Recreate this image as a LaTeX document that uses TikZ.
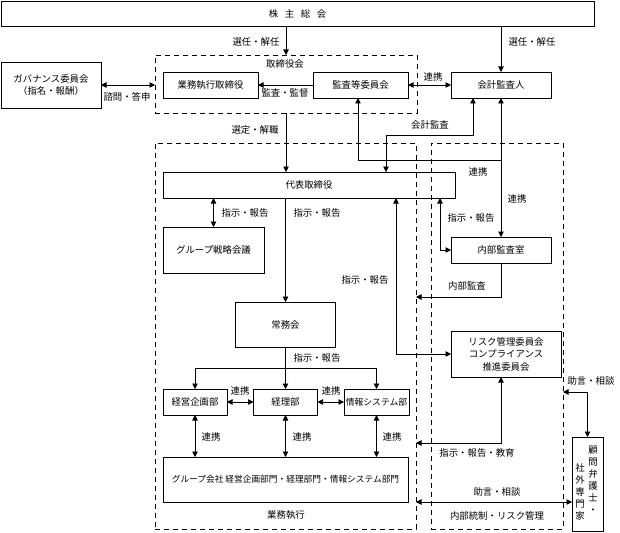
\documentclass[tikz,border=0pt]{standalone}
\usepackage{fontspec}
\setmainfont{Noto Sans CJK JP}
\usetikzlibrary{arrows.meta}

\begin{document}
\begin{tikzpicture}[x=1pt, y=-1pt, line width=.7pt, >={Triangle[length=5.5pt,width=5.5pt]},
    box/.style={draw, inner sep=0, outer sep=0, align=center, font=\fontsize{9.4}{12.5}\selectfont},
    region/.style={draw, dash pattern=on 5pt off 4pt, inner sep=0, outer sep=0},
    lbl/.style={inner sep=0, font=\fontsize{9.4}{12}\selectfont},
    vcol/.style={inner sep=0, align=center, font=\fontsize{9.4}{12}\selectfont}]
    \useasboundingbox (0,0) rectangle (620,532);

    % regions
    \node[region, minimum width=262, minimum height=58] (board) at (286,84) {};
    \node[region, minimum width=261, minimum height=386] (exec) at (285.5,336) {};
    \node[region, minimum width=132, minimum height=386] (ctrl) at (497,336) {};

    % boxes
    \node[box, minimum width=593, minimum height=25] (soukai) at (297.5,13.5) {株\hspace{.7em}主\hspace{.7em}総\hspace{.7em}会};
    \node[box, minimum width=100, minimum height=46] (gov) at (51,85) {ガバナンス委員会\\（指名・報酬）};
    \node[box, minimum width=95, minimum height=26] (gyoumu) at (210.5,85) {業務執行取締役};
    \node[box, minimum width=95, minimum height=26] (kansa) at (360.5,85) {監査等委員会};
    \node[box, minimum width=100, minimum height=26] (kaikei) at (501,85) {会計監査人};
    \node[box, minimum width=292, minimum height=26] (daihyo) at (309,185) {代表取締役};
    \node[box, minimum width=101, minimum height=46] (senryaku) at (213.5,250) {グループ戦略会議};
    \node[box, minimum width=100, minimum height=26] (naibu) at (501,250) {内部監査室};
    \node[box, minimum width=100, minimum height=45] (joumu) at (285.5,324.5) {常務会};
    \node[box, minimum width=110, minimum height=46] (risk) at (506,354) {リスク管理委員会\\コンプライアンス\\推進委員会};
    \node[box, minimum width=64, minimum height=26] (keiei) at (195,402) {経営企画部};
    \node[box, minimum width=64, minimum height=26] (keiri) at (285.5,402) {経理部};
    \node[box, minimum width=65, minimum height=26, font=\fontsize{8.8}{11}\selectfont] (joho) at (376.5,402) {情報システム部};
    \node[box, minimum width=245, minimum height=45, font=\fontsize{8.7}{11}\selectfont] (group) at (285.5,479.5) {グループ会社 経営企画部門・経理部門・情報システム部門};
    \node[box, minimum width=31, minimum height=94] (komon) at (587.5,484) {};
    \node[vcol] (komonR) at (593,480) {顧\\問\\弁\\護\\士\\・};
    \node[vcol] (komonL) at (580,492) {社\\外\\専\\門\\家};

    % bends
    \coordinate (kaA) at (473,135);
    \coordinate (kaB) at (386,135);
    \coordinate (rk) at (358,160);
    \coordinate (nbA) at (440,250);
    \coordinate (nbB) at (501,297);
    \coordinate (rsA) at (396,354);
    \coordinate (rsB) at (501,443);
    \coordinate (jmA) at (285.5,368);
    \coordinate (kmA) at (587.5,392);
    \coordinate (jg) at (500,502);

    % connectors
    \draw[->] (board.north |- soukai.south) -- (board.north);
    \draw[->] (kaikei.north |- soukai.south) -- (kaikei.north);
    \draw[<->] (gov.east) -- (gov.east -| board.west);
    \draw[->] (kansa.west) -- (gyoumu.east);
    \draw[<->] (kansa.east) -- (kaikei.west);
    \draw[->] (board.south) -- (board.south |- daihyo.north);
    \draw[<->] (kaA |- kaikei.south) -- (kaA) -- (kaB) -- (kaB |- daihyo.north);
    \draw[->] (rk -| kaikei.south) -- (rk) -- (rk |- kansa.south);
    \draw[<->] (kaikei.south) -- (naibu.north);
    \draw[<->] (senryaku.north |- daihyo.south) -- (senryaku.north);
    \draw[->] (joumu.north |- daihyo.south) -- (joumu.north);
    \draw[<->] (nbA |- daihyo.south) -- (nbA) -- (naibu.west);
    \draw[->] (naibu.south) -- (nbB) -- (nbB -| exec.east);
    \draw[<->] (rsA |- daihyo.south) -- (rsA) -- (risk.west);
    \draw[<->] (rsB |- risk.south) -- (rsB) -- (rsB -| exec.east);
    \draw (joumu.south) -- (jmA);
    \draw (jmA -| keiei.north) -- (jmA -| joho.north);
    \draw[->] (jmA -| keiei.north) -- (keiei.north);
    \draw[->] (jmA) -- (keiri.north);
    \draw[->] (jmA -| joho.north) -- (joho.north);
    \draw[<->] (keiei.east) -- (keiri.west);
    \draw[<->] (keiri.east) -- (joho.west);
    \draw[<->] (keiei.south) -- (keiei.south |- group.north);
    \draw[<->] (keiri.south) -- (keiri.south |- group.north);
    \draw[<->] (joho.south) -- (joho.south |- group.north);
    \draw[<->] (komon.north) -- (kmA) -- (kmA -| ctrl.east);
    \draw[<->] (jg -| exec.east) -- (jg -| komon.west);

    % labels
    \node[lbl] (tBoard) at (285,64) {取締役会};
    \node[lbl] (tSenninL) at (256,42) {選任・解任};
    \node[lbl] (tSenninR) at (532,42) {選任・解任};
    \node[lbl] (tShimon) at (127,97) {諮問・答申};
    \node[lbl] (tKansa) at (285,93) {監査・監督};
    \node[lbl] (tRenkei1) at (433,77) {連携};
    \node[lbl] (tSentei) at (255,130) {選定・解職};
    \node[lbl] (tKaikei) at (430,125) {会計監査};
    \node[lbl] (tRenkei2) at (478,172) {連携};
    \node[lbl] (tRenkei3) at (517,199) {連携};
    \node[lbl] (tShiji1) at (245,213) {指示・報告};
    \node[lbl] (tShiji2) at (317,213) {指示・報告};
    \node[lbl] (tShiji3) at (471,218) {指示・報告};
    \node[lbl] (tShiji4) at (365,280) {指示・報告};
    \node[lbl] (tNaibu) at (467,286) {内部監査};
    \node[lbl] (tShiji5) at (317,358) {指示・報告};
    \node[lbl] (tRenkei4) at (240,391) {連携};
    \node[lbl] (tRenkei5) at (331,391) {連携};
    \node[lbl] (tRenkei6) at (211,437) {連携};
    \node[lbl] (tRenkei7) at (302,437) {連携};
    \node[lbl] (tRenkei8) at (392,437) {連携};
    \node[lbl] (tKyoiku) at (477,453) {指示・報告・教育};
    \node[lbl] (tJogen1) at (591,381) {助言・相談};
    \node[lbl] (tJogen2) at (497,492) {助言・相談};
    \node[lbl] (tExec) at (286,515) {業務執行};
    \node[lbl] (tCtrl) at (497,516) {内部統制・リスク管理};
\end{tikzpicture}
\end{document}
